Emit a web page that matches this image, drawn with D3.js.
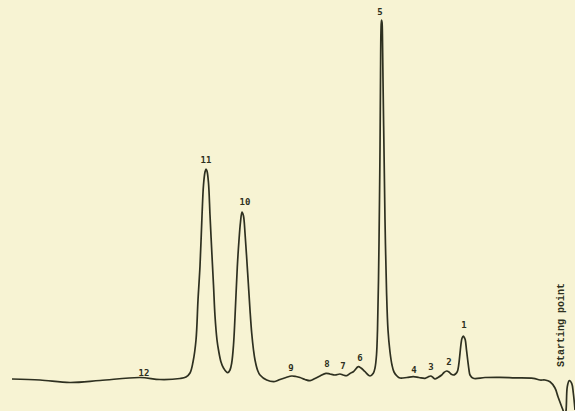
<!DOCTYPE html>
<html>
<head>
<meta charset="utf-8">
<script src="https://cdn.jsdelivr.net/npm/d3@7"></script>
<style>
  html, body { margin: 0; padding: 0; background: #f7f3d3; }
  svg { display: block; }
</style>
</head>
<body>
<svg id="chart" width="575" height="411"></svg>
<script>
// Trace position (arbitrary migration units) and detector response (baseline = 0)
const tracePos = [12,40,70,100,140,160,180,186,190,193,196,198,200,202,203.5,205,206,207,208.5,210,211.7,213.5,215,217,218.5,221,223.5,227.7,230,231.7,233.5,235,237.3,239,240.5,242,243.5,245,246.5,248.3,250,251.7,253.5,255,257.5,260,266.7,275,280,286,291.7,296,300,305,310,315,320,326,330,335,340,343,346.7,350,353.3,358.3,361,365,370,373.3,375,376.5,377.5,378.5,379.5,380,380.5,381,381.5,382,382.5,383,384,385,386.5,388,390,392,394,397,400,407,413.3,419,425,428,430.7,433,435,438,441.7,444,446.7,449,451,453.3,455.5,457.3,458.7,460,461,462,463.3,464.5,465.3,466.5,467.7,469,470,473.3,485,500,515,533.3,540,545,550,555,558,561.7,563.3,565,566,567.3,569.3,571.7,573.3,575];
const traceResp = [1,0,-2.5,-0.5,2.5,0.5,1.5,3,7,18,40,80,114,164,195,208,211,209,197,165,130,95,64,40,30,18,12,7.3,10,17,35,63,113,140,158,168,164,147,125,97,70,47,30,20,10,5,0,-1.5,0.5,2.5,4,3.5,2.5,0.5,-0.7,1.5,4,6.7,6,5,6,5,4.3,6.5,8.3,13.3,12,8.3,4,6.7,12,25,50,100,180,230,300,350,360,358,340,300,230,160,90,50,28,15,8,4,2,2.5,3.3,2.5,1.7,3,4,2.5,1,2.5,5,7.5,9,8,6,5,6,8.3,15,26.7,36,41.7,44,42,40,30,20,10,5,1.7,2.5,2.7,2.2,1.7,0,0,-1.7,-8,-16.7,-26.7,-31,-35,-31,-6.7,-0.7,-3.3,-13,-30];

// Peak labels
const peakNames = ["12","11","10","9","8","7","6","5","4","3","2","1"];
const peakPos   = [144,206,245,291,327,343,360,380,414,431,449,464];
const peakResp  = [4,217,175,9,13,11,19,365,7,10,15,52];

const startLabel = "Starting point";
const startPos = 561;
const startResp = 55;

const W = 575, H = 411;
const svg = d3.select("#chart");

const x = d3.scaleLinear().domain([0, 575]).range([0, W]);
const y = d3.scaleLinear().domain([-31, 380]).range([H, 0]);

const ink = "#2e3020";

svg.append("rect").attr("width", W).attr("height", H).attr("fill", "#f7f3d3");

const pts = tracePos.map((p, i) => [p, traceResp[i]]);
const line = d3.line().x(d => x(d[0])).y(d => y(d[1])).curve(d3.curveCatmullRom.alpha(0.5));

svg.append("path")
  .datum(pts)
  .attr("d", line)
  .attr("fill", "none")
  .attr("stroke", ink)
  .attr("stroke-width", 1.7)
  .attr("stroke-linejoin", "round");

svg.selectAll("text.peak")
  .data(peakNames)
  .join("text")
  .attr("class", "peak")
  .attr("x", (d, i) => x(peakPos[i]))
  .attr("y", (d, i) => y(peakResp[i]))
  .attr("text-anchor", "middle")
  .attr("font-family", "'DejaVu Sans Mono', 'Liberation Mono', monospace")
  .attr("font-weight", "bold")
  .attr("font-size", 9)
  .attr("fill", ink)
  .text(d => d);

svg.append("text")
  .attr("transform", `translate(${x(startPos)},${y(startResp)}) rotate(-90)`)
  .attr("text-anchor", "middle")
  .attr("dominant-baseline", "middle")
  .attr("font-family", "'Liberation Mono', 'DejaVu Sans Mono', monospace")
  .attr("font-weight", "bold")
  .attr("font-size", 10)
  .attr("fill", ink)
  .text(startLabel);
</script>
</body>
</html>
